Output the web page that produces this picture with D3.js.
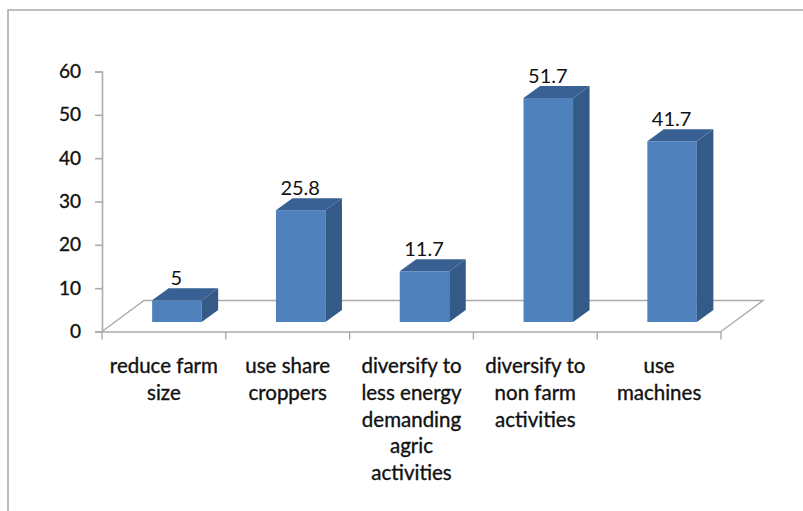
<!DOCTYPE html>
<html><head><meta charset="utf-8">
<script src="https://cdn.jsdelivr.net/npm/d3@7/dist/d3.min.js"></script>
<style>
html,body{margin:0;padding:0;background:#fff}
svg{display:block;position:absolute;left:0;top:0}
text{font-family:Lato,"Noto Sans",sans-serif;fill:#111}
</style></head><body>
<svg id="c" width="803" height="511"></svg>
<script>
const categories=["reduce farm size","use share croppers","diversify to less energy demanding agric activities","diversify to non farm activities","use machines"];
const categoryLines=[["reduce farm","size"],["use share","croppers"],["diversify to","less energy","demanding","agric","activities"],["diversify to","non farm","activities"],["use","machines"]];
const values=[5,25.8,11.7,51.7,41.7];
const yTicks=[0,10,20,30,40,50,60];

const svg=d3.select("#c");
const grey="#ababab";
const x=d3.scaleBand().domain(categories).range([102,721]).paddingInner(0).paddingOuter(0);
const y=d3.scaleLinear().domain([0,60]).range([331.5,71.5]);
const depthX=42, depthY=31, barDX=16.5, barDY=12, baseShift=9.5;
const barW=x.bandwidth()*0.4;

// frame
svg.append("path").attr("d","M8,511V10H803").attr("fill","none").attr("stroke",grey).attr("stroke-width",1.6);

// floor
const fy=y(0);
svg.append("path")
 .attr("d",`M${x.range()[0]},${fy}L${x.range()[0]+depthX},${fy-depthY}H${x.range()[1]+depthX}L${x.range()[1]},${fy}`)
 .attr("fill","none").attr("stroke",grey).attr("stroke-width",1.4);

// axes
const ya=d3.axisLeft(y).tickValues(yTicks).tickSize(7).tickPadding(14);
const yg=svg.append("g").attr("transform","translate(102,0)").call(ya);
yg.selectAll("path,line").attr("stroke",grey).attr("stroke-width",1.6);
yg.selectAll("text").attr("font-size",19).attr("font-family","Lato").style("fill","#111").attr("stroke","#111").attr("stroke-width",0.35);

const xa=d3.axisBottom(x).tickValues([]).tickSize(0);
const xg=svg.append("g").attr("transform",`translate(0,${fy})`).call(xa);
xg.select("path").attr("stroke",grey).attr("stroke-width",1.6);
const bounds=[...categories.map(c=>x(c)),x.range()[1]];
xg.selectAll("line.t").data(bounds).join("line").attr("class","t")
 .attr("x1",d=>d).attr("x2",d=>d).attr("y1",0).attr("y2",8).attr("stroke",grey).attr("stroke-width",1.4);

// bars
const g=svg.selectAll("g.bar").data(categories).join("g").attr("class","bar");
const left=c=>x(c)+x.bandwidth()*0.405;
const top_=(i)=>y(values[i])-baseShift;
const bot=fy-baseShift;
g.append("rect").attr("x",c=>left(c)).attr("y",(c,i)=>top_(i)).attr("width",barW).attr("height",(c,i)=>bot-top_(i)).attr("fill","#4f81bd");
g.append("path").attr("fill","#345a88").attr("d",(c,i)=>{const l=left(c)+barW,t=top_(i);
 return `M${l},${t}l${barDX},${-barDY}V${bot-barDY}l${-barDX},${barDY}Z`;});
g.append("path").attr("fill","#386092").attr("d",(c,i)=>{const l=left(c),t=top_(i);
 return `M${l},${t}l${barDX},${-barDY}h${barW}l${-barDX},${barDY}Z`;});
g.append("text").attr("x",c=>left(c)+barW/2-0.5).attr("y",(c,i)=>top_(i)-barDY-3)
 .attr("text-anchor","middle").attr("font-size",20).text((c,i)=>String(values[i]));

// category labels
svg.selectAll("text.cat").data(categories).join("text").attr("class","cat")
 .attr("text-anchor","middle").attr("font-size",20.5).attr("stroke","#111").attr("stroke-width",0.35)
 .each(function(c,i){
  d3.select(this).selectAll("tspan").data(categoryLines[i]).join("tspan")
   .attr("x",x(c)+x.bandwidth()/2).attr("y",(l,j)=>373+j*26.8).text(l=>l);
 });
</script></body></html>
